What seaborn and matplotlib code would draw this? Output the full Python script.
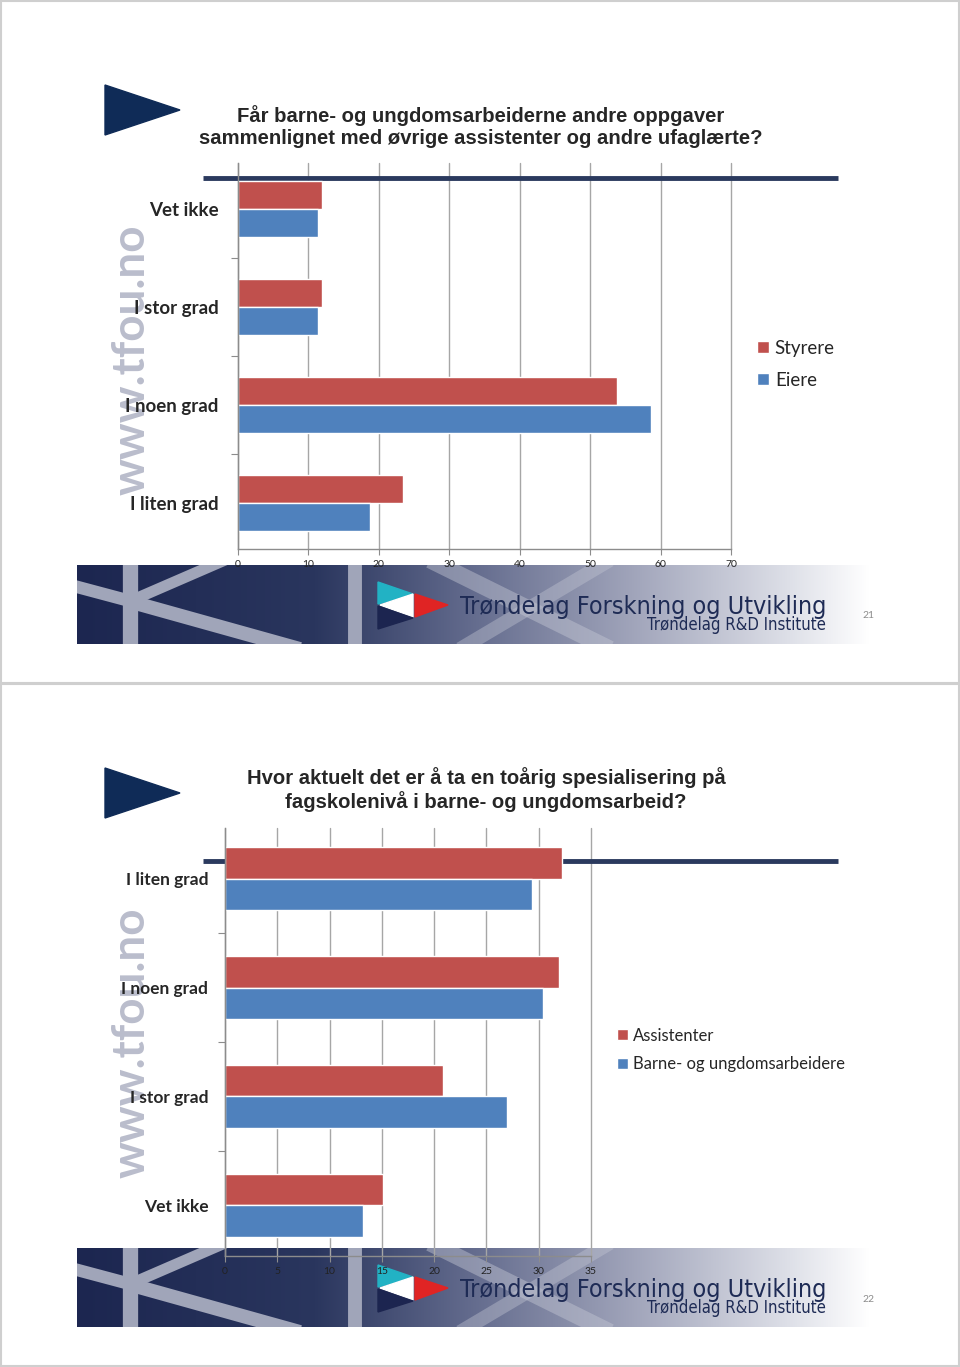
import numpy as np
import pandas as pd
import matplotlib
matplotlib.use("Agg")
import matplotlib.pyplot as plt
import seaborn as sns
from matplotlib.patches import Polygon, Rectangle

# slide 21
cats1 = ["Vet ikke", "I stor grad", "I noen grad", "I liten grad"]
series1 = ["Styrere", "Eiere"]
styrere = [11.9, 11.9, 53.8, 23.4]
eiere = [11.3, 11.3, 58.6, 18.8]
xticks1 = [0, 10, 20, 30, 40, 50, 60, 70]
title1 = "Får barne- og ungdomsarbeiderne andre oppgaver\nsammenlignet med øvrige assistenter og andre ufaglærte?"

# slide 22
cats2 = ["I liten grad", "I noen grad", "I stor grad", "Vet ikke"]
series2 = ["Assistenter", "Barne- og ungdomsarbeidere"]
assistenter = [32.2, 31.9, 20.8, 15.1]
bua = [29.4, 30.4, 27.0, 13.2]
xticks2 = [0, 5, 10, 15, 20, 25, 30, 35]
title2 = "Hvor aktuelt det er å ta en toårig spesialisering på\nfagskolenivå i barne- og ungdomsarbeid?"

RED = "#c0504d"
BLUE = "#4f81bd"
NAVY = "#0f2b57"
W, H = 960, 1367

sns.set_theme(style="white")
plt.rcParams["font.family"] = ["Lato", "DejaVu Sans"]

fig = plt.figure(figsize=(W / 100, H / 100), dpi=100)
bg = fig.add_axes([0, 0, 1, 1], zorder=-5)
bg.axis("off")


def px_axes(l, t, r, b):
    return fig.add_axes([l / W, 1 - b / H, (r - l) / W, (b - t) / H])


def slide_deco(top, page):
    # slide frame
    bg.add_patch(Rectangle((1, top + 1), W - 2, 682, fill=False, ec="#cfcfcf", lw=1.5))
    # arrow
    bg.add_patch(Polygon([(105, top + 85), (105, top + 135), (180, top + 110)], color=NAVY))
    # footer banner
    y0, x0, x1, h = top + 565, 77, 870, 79
    stops = [0, 0.3, 0.5, 0.7, 0.9, 1.0]
    cols = np.array([[28, 38, 80], [42, 54, 94], [100, 108, 142],
                     [160, 164, 186], [222, 224, 232], [255, 255, 255]]) / 255
    xs = np.linspace(0, 1, 400)
    grad = np.stack([np.interp(xs, stops, cols[:, k]) for k in range(3)], axis=-1)[None]
    bg.imshow(grad, extent=[x0, x1, y0 + h, y0], aspect="auto", zorder=1)
    clip = Rectangle((x0, y0), x1 - x0, h, transform=bg.transData)
    st = dict(color="#a0a5b9", solid_capstyle="butt", zorder=2)
    stripes = [
        ([130, 130], [y0 - 5, y0 + h + 5], 11, st),
        ([70, 130], [y0 + 20, y0 + 36], 9, st),
        ([135, 300], [y0 + 38, y0 + h + 5], 10, st),
        ([135, 225], [y0 + 34, y0 - 5], 8, st),
        ([355, 355], [y0 - 5, y0 + h + 5], 10, st),
        ([430, 610], [y0 - 5, y0 + h + 5], 12, dict(color="#c4c7d4", alpha=0.45, solid_capstyle="butt", zorder=2)),
        ([610, 460], [y0 - 5, y0 + h + 5], 10, dict(color="#c4c7d4", alpha=0.4, solid_capstyle="butt", zorder=2)),
    ]
    for xs_, ys_, lw, kw in stripes:
        ln, = bg.plot(xs_, ys_, lw=lw, **kw)
        ln.set_clip_path(clip)
    # logo
    bg.add_patch(Polygon([(378, y0 + 17), (413, y0 + 29), (378, y0 + 39)], color="#22b2c4", zorder=3))
    bg.add_patch(Polygon([(380, y0 + 40), (413, y0 + 29), (413, y0 + 52)], color="white", zorder=3))
    bg.add_patch(Polygon([(378, y0 + 41), (413, y0 + 53), (378, y0 + 64)], color="#1c2550", zorder=3))
    bg.add_patch(Polygon([(415, y0 + 29), (448, y0 + 40), (415, y0 + 52)], color="#e02424", zorder=3))
    bg.text(826, y0 + 42, "Trøndelag Forskning og Utvikling", ha="right", va="center",
            fontsize=18, family="DejaVu Sans", fontstretch="condensed", color="#1e2b55", zorder=4)
    bg.text(826, y0 + 60, "Trøndelag R&D Institute", ha="right", va="center",
            fontsize=12, family="DejaVu Sans", fontstretch="condensed", color="#1e2b55", zorder=4)
    bg.text(868, top + 616, page, ha="center", va="center", fontsize=7.5, color="#8c8c8c")
    # watermark
    bg.text(132, top + 360, "www.tfou.no", rotation=90, ha="center", va="center",
            fontsize=33, fontweight="bold", color="#babdcc")


def draw_chart(ax, cats, series, a, b, xmax, xticks, leg_xy, legsize, spacing, pad, labsize):
    df = pd.DataFrame({
        "kategori": cats * 2,
        "serie": [series[0]] * len(cats) + [series[1]] * len(cats),
        "verdi": a + b,
    })
    sns.barplot(data=df, y="kategori", x="verdi", hue="serie", order=cats, hue_order=series,
                palette=[RED, BLUE], orient="h", width=0.57, saturation=1, ax=ax)
    ax.set_xlim(0, xmax)
    ax.set_xticks(xticks)
    ax.set_xlabel("")
    ax.set_ylabel("")
    ax.set_facecolor("none")
    ax.set_axisbelow(True)
    ax.xaxis.grid(True, color="#a6a6a6", lw=1)
    for gl in ax.get_xgridlines():
        gl.set_clip_on(False)
    for s in ["top", "right"]:
        ax.spines[s].set_visible(False)
    for s in ["left", "bottom"]:
        ax.spines[s].set_color("#8c8c8c")
        ax.spines[s].set_linewidth(1)
    ax.set_yticks(np.arange(-0.5, len(cats), 1), minor=True)
    ax.tick_params(axis="y", which="major", length=0, pad=pad, labelsize=labsize)
    ax.tick_params(axis="y", which="minor", left=True, length=5, width=0.8, color="#8c8c8c")
    ax.tick_params(axis="x", bottom=True, length=4, width=0.8, color="#8c8c8c",
                   labelsize=7.5, pad=4, labelcolor="#222222")
    for t in ax.get_yticklabels():
        t.set_fontweight("bold")
    leg = ax.get_legend()
    handles = leg.legend_handles
    labels = [t.get_text() for t in leg.get_texts()]
    ax.legend(handles, labels, loc="center left",
              bbox_to_anchor=(leg_xy[0] / W, 1 - leg_xy[1] / H), bbox_transform=fig.transFigure,
              frameon=False, fontsize=legsize, handlelength=0.65, handleheight=0.65,
              handletextpad=0.3, labelspacing=spacing, borderpad=0, borderaxespad=0)


# slide 21
slide_deco(0, "21")
bg.text(481, 126.5, title1, ha="center", va="center", fontsize=14.6, fontweight="bold",
        family="Liberation Sans", linespacing=1.2)
ax1 = px_axes(238, 163, 731, 549)
draw_chart(ax1, cats1, series1, styrere, eiere, 70, xticks1, (757, 364), 13.5, 0.8, 14, 13.5)
ax1.plot([203, 838], [178, 178], color="#2b3a5e", lw=3.5, transform=bg.transData,
         clip_on=False, zorder=0.8, solid_capstyle="butt")

# slide 22
slide_deco(683, "22")
bg.text(486, 789.5, title2, ha="center", va="center", fontsize=14.6, fontweight="bold",
        family="Liberation Sans", linespacing=1.2)
ax2 = px_axes(225, 828, 591, 1256)
draw_chart(ax2, cats2, series2, assistenter, bua, 35, xticks2, (617, 1050), 12, 0.75, 12, 12.5)
ax2.plot([203, 838], [861, 861], color="#2b3a5e", lw=3.5, transform=bg.transData,
         clip_on=False, zorder=0.8, solid_capstyle="butt")

bg.set_xlim(0, W)
bg.set_ylim(H, 0)

fig.savefig("out.png", dpi=100)
